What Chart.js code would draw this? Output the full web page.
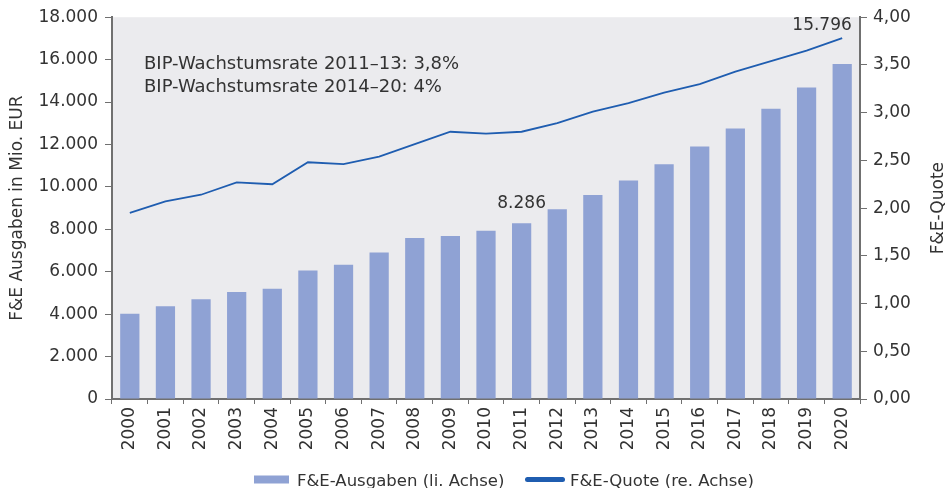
<!DOCTYPE html>
<html>
<head>
<meta charset="utf-8">
<script src="https://cdn.jsdelivr.net/npm/chart.js@4/dist/chart.umd.min.js"></script>
<style>
  html, body { margin: 0; padding: 0; background: #fff; }
  #wrap { width: 948px; height: 488px; position: relative; }
</style>
</head>
<body>
<div id="wrap"><canvas id="chart"></canvas></div>
<script>
// Data
const years = ['2000', '2001', '2002', '2003', '2004', '2005', '2006', '2007', '2008', '2009', '2010',
    '2011', '2012', '2013', '2014', '2015', '2016', '2017', '2018', '2019', '2020'];
const spending = [4020, 4370, 4700, 5050, 5200, 6060, 6330, 6910, 7590, 7680, 7930,
    8286, 8950, 9620, 10300, 11070, 11900, 12750, 13680, 14690, 15796];
const quota = [1.95, 2.07, 2.14, 2.27, 2.25, 2.48, 2.46, 2.54, 2.67, 2.80, 2.78,
    2.80, 2.89, 3.01, 3.10, 3.21, 3.30, 3.43, 3.54, 3.65, 3.78];
const leftTicks = ['0', '2.000', '4.000', '6.000', '8.000', '10.000', '12.000', '14.000', '16.000', '18.000'];
const rightTicks = ['0,00', '0,50', '1,00', '1,50', '2,00', '2,50', '3,00', '3,50', '4,00'];
const noteLines = ['BIP-Wachstumsrate 2011\u201313: 3,8%', 'BIP-Wachstumsrate 2014\u201320: 4%'];
const valueLabels = [{ index: 11, text: '8.286' }, { index: 20, text: '15.796' }];

const FONT = '"DejaVu Sans", sans-serif';
const TEXT = '#333333';
const AXIS = '#707070';
const BAR = '#8fa2d4';
const LINE = '#1f5db0';

// grey plot background, notes, value labels, axis titles and legend
const extras = {
    id: 'extras',
    beforeDraw(chart) {
        const a = chart.chartArea;
        const ctx = chart.ctx;
        ctx.save();
        ctx.fillStyle = '#ebebee';
        ctx.fillRect(a.left, a.top, a.right - a.left, a.bottom - a.top);
        ctx.restore();
    },
    afterDraw(chart) {
        const ctx = chart.ctx;
        const y = chart.scales.y;
        const bars = chart.getDatasetMeta(0).data;
        ctx.save();
        ctx.fillStyle = TEXT;
        ctx.font = '18px ' + FONT;
        ctx.textBaseline = 'alphabetic';
        ctx.textAlign = 'left';
        noteLines.forEach((t, i) => ctx.fillText(t, 144, 69 + i * 23));

        ctx.font = '17px ' + FONT;
        valueLabels.forEach(v => {
            const bar = bars[v.index];
            const top = y.getPixelForValue(spending[v.index]);
            if (v.index === spending.length - 1) {
                ctx.textAlign = 'right';
                ctx.fillText(v.text, bar.x + bar.width / 2, top - 34);
            } else {
                ctx.textAlign = 'center';
                ctx.fillText(v.text, bar.x, top - 15);
            }
        });

        // axis titles, both reading bottom to top
        const midY = (chart.chartArea.top + chart.chartArea.bottom) / 2;
        ctx.textAlign = 'center';
        ctx.textBaseline = 'middle';
        [[18, 'F&E Ausgaben in Mio. EUR'], [939, 'F&E-Quote']].forEach(([x, t]) => {
            ctx.save();
            ctx.translate(x, midY);
            ctx.rotate(-Math.PI / 2);
            ctx.fillText(t, 0, 0);
            ctx.restore();
        });

        // legend
        const ly = 479.5;
        ctx.font = '16.5px ' + FONT;
        ctx.textAlign = 'left';
        ctx.textBaseline = 'alphabetic';
        ctx.fillStyle = BAR;
        ctx.fillRect(254, ly - 4, 35, 8);
        ctx.strokeStyle = LINE;
        ctx.lineWidth = 5;
        ctx.lineCap = 'round';
        ctx.beginPath();
        ctx.moveTo(527.5, ly);
        ctx.lineTo(562.5, ly);
        ctx.stroke();
        ctx.fillStyle = TEXT;
        ctx.fillText(chart.data.datasets[0].label, 297, 486);
        ctx.fillText(chart.data.datasets[1].label, 570, 486);
        ctx.restore();
    }
};

const ctx = document.getElementById('chart').getContext('2d');
new Chart(ctx, {
    type: 'bar',
    data: {
        labels: years,
        datasets: [{
            label: 'F&E-Ausgaben (li. Achse)',
            data: spending,
            yAxisID: 'y',
            backgroundColor: BAR,
            categoryPercentage: 1,
            barPercentage: 0.54,
            order: 2
        }, {
            type: 'line',
            label: 'F&E-Quote (re. Achse)',
            data: quota,
            yAxisID: 'y1',
            borderColor: LINE,
            backgroundColor: LINE,
            borderWidth: 1.8,
            pointRadius: 0,
            tension: 0,
            order: 1
        }]
    },
    options: {
        responsive: true,
        maintainAspectRatio: false,
        animation: false,
        layout: { padding: { top: 17, left: 0, right: 0, bottom: 0 } },
        plugins: {
            tooltip: { enabled: false },
            legend: { display: false }
        },
        scales: {
            x: {
                grid: { drawOnChartArea: false, drawTicks: true, tickLength: 5, color: AXIS, offset: true },
                border: { color: AXIS, width: 2 },
                ticks: {
                    color: TEXT,
                    font: { family: FONT, size: 17 },
                    minRotation: 90,
                    maxRotation: 90,
                    padding: 3,
                    autoSkip: false
                },
                afterFit(scale) { scale.height = 89; }
            },
            y: {
                position: 'left',
                min: 0,
                max: 18000,
                ticks: {
                    stepSize: 2000,
                    color: TEXT,
                    font: { family: FONT, size: 17 },
                    padding: 7,
                    callback: (v, i) => leftTicks[i]
                },
                grid: { drawOnChartArea: false, tickLength: 7, color: AXIS },
                border: { color: AXIS, width: 2 },
                afterFit(scale) { scale.width = 112; }
            },
            y1: {
                position: 'right',
                min: 0,
                max: 4,
                ticks: {
                    stepSize: 0.5,
                    color: TEXT,
                    font: { family: FONT, size: 17 },
                    padding: 6,
                    callback: (v, i) => rightTicks[i]
                },
                grid: { drawOnChartArea: false, tickLength: 7, color: AXIS },
                border: { color: AXIS, width: 2 },
                afterFit(scale) { scale.width = 88; }
            }
        }
    },
    plugins: [extras]
});
</script>
</body>
</html>
